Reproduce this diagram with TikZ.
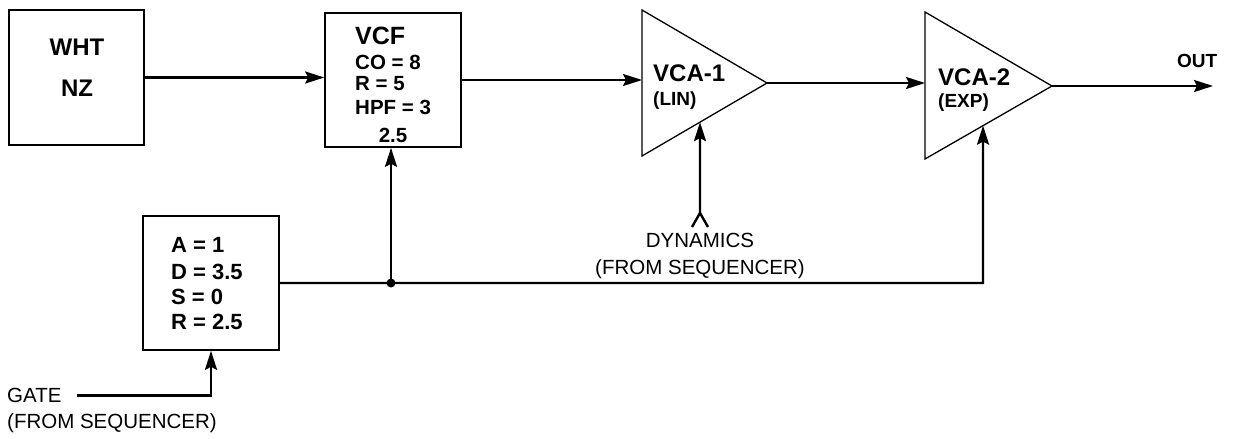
\documentclass[tikz,border=0pt]{standalone}
\usepackage{fontspec}
\setmainfont{Liberation Sans}
\usetikzlibrary{arrows.meta,calc}
\tikzset{
  box/.style={draw, line width=1.6pt, inner sep=0pt, minimum width=136pt, minimum height=134pt},
  conn/.style={line width=2.4pt},
  arr/.style={conn, -{Stealth[length=19pt,width=12pt,inset=3pt]}},
  amp/.style={line width=1.3pt, line join=miter},
  bigb/.style={font=\bfseries\fontsize{24}{28}\selectfont, inner sep=0pt, anchor=base west},
  parb/.style={font=\bfseries\fontsize{20.5}{24}\selectfont, inner sep=0pt, anchor=base west},
  envb/.style={font=\bfseries\fontsize{22}{25}\selectfont, inner sep=0pt, anchor=base west},
  subb/.style={font=\bfseries\fontsize{19}{23}\selectfont, inner sep=0pt, anchor=base west},
  lab/.style={font=\fontsize{20.5}{24}\selectfont, inner sep=0pt},
}
\begin{document}
\begin{tikzpicture}[x=1pt,y=-1pt]
\useasboundingbox (0,0) rectangle (1235,439);

% boxes
\node[box, minimum width=135pt, minimum height=135pt] (wht) at (76.5,77.5) {};
\node[box] (vcf) at (393,80) {};
\node[box] (adsr) at (211,283) {};

% WHT NZ text
\node[bigb, anchor=base] (t1) at (77,55.5) {WHT};
\node[bigb, anchor=base] (t2) at (77,96.5) {NZ};

% VCF text
\node[bigb, font=\bfseries\fontsize{25}{29}\selectfont] (vcft) at (355,44) {VCF};
\node[parb] (co) at (355,69) {CO = 8};
\node[parb] (rr) at (355,90) {R = 5};
\node[parb] (hpf) at (355,114) {HPF = 3};
\node[parb, anchor=base] (hpv) at (393,142) {2.5};

% ADSR text
\node[envb] (ea) at (171,252.5) {A = 1};
\node[envb] (ed) at (171,279.5) {D = 3.5};
\node[envb] (es) at (171,304.5) {S = 0};
\node[envb] (er) at (171,329.5) {R = 2.5};

% VCA-1
\coordinate (v1t) at (642,10);
\coordinate (v1b) at (642,156);
\coordinate (v1o) at (767,83);
\draw[amp] (v1t) -- (v1o) -- (v1b) -- cycle;
\node[bigb] (v1a) at (653,81) {VCA-1};
\node[subb] (v1s) at (653,105) {(LIN)};

% VCA-2
\coordinate (v2t) at (925,12);
\coordinate (v2b) at (925,159);
\coordinate (v2o) at (1052,86);
\draw[amp] (v2t) -- (v2o) -- (v2b) -- cycle;
\node[bigb] (v2a) at (938,85) {VCA-2};
\node[subb] (v2s) at (938,107) {(EXP)};

% OUT
\node[subb] (out) at (1177,67) {OUT};
\coordinate (oe) at (1213,86);

% signal path
\draw[arr] (wht.east) -- (wht.east -| vcf.west);
\draw[arr] (vcf.east) -- (vcf.east -| v1t);
\draw[arr] (v1o) -- (v1o -| v2t);
\draw[arr] (v2o) -- (oe);

% dynamics
\coordinate (dyn) at (700,213);
\coordinate (dynl) at (692,227);
\coordinate (dynr) at (708,227);
\coordinate (d1) at ($(v1b)!0.464!(v1o)$);
\draw[conn, line join=miter] (dynl) -- (dyn) -- (dynr);
\draw[arr] (dyn) -- (d1);
\node[lab, anchor=base] (dl1) at (700,247.5) {DYNAMICS};
\node[lab, anchor=base] (dl2) at (700,274.5) {(FROM SEQUENCER)};

% envelope distribution
\coordinate (j) at (adsr.east -| 391,0);
\coordinate (c2) at (adsr.east -| 983,0);
\coordinate (d2) at ($(v2b)!0.457!(v2o)$);
\draw[arr] (adsr.east) -- (c2) -- (d2);
\draw[arr] (j) -- (j |- vcf.south);
\fill (j) circle (4.5pt);

% gate
\node[lab, anchor=base west] (gate) at (7,402.5) {GATE};
\node[lab, anchor=base west] (gl2) at (7,428) {(FROM SEQUENCER)};
\draw[arr] ($(gate.east)+(15,0)$) -| (adsr.south);
\end{tikzpicture}
\end{document}
